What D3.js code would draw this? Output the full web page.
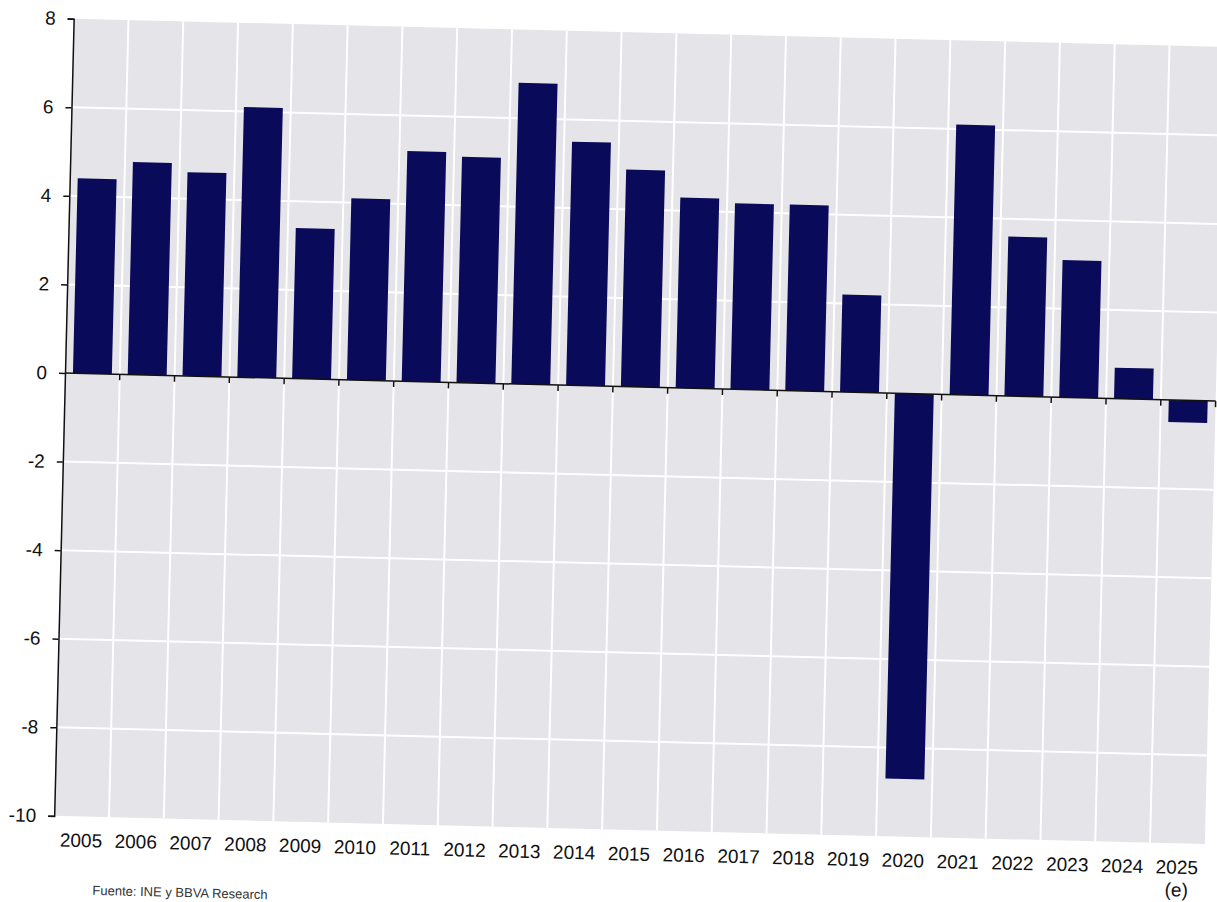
<!DOCTYPE html>
<html>
<head>
<meta charset="utf-8">
<script src="https://cdn.jsdelivr.net/npm/d3@7"></script>
<style>
  body { margin: 0; background: #fff; }
  svg { display: block; font-family: "Liberation Sans", Arial, sans-serif; }
</style>
</head>
<body>
<svg id="chart" width="1217" height="902"></svg>
<script>
  // --------------------------------------------------
  // 1. Data
  // --------------------------------------------------
  const years = ["2005", "2006", "2007", "2008", "2009", "2010", "2011", "2012", "2013", "2014",
                 "2015", "2016", "2017", "2018", "2019", "2020", "2021", "2022", "2023", "2024", "2025"];
  const growth = [4.4, 4.8, 4.6, 6.1, 3.4, 4.1, 5.2, 5.1, 6.8, 5.5,
                  4.9, 4.3, 4.2, 4.2, 2.2, -8.7, 6.1, 3.6, 3.1, 0.7, -0.5];
  const yTicks = [8, 6, 4, 2, 0, -2, -4, -6, -8, -10];
  const estimateNote = { year: "2025", text: "(e)" };
  const sourceText = "Fuente: INE y BBVA Research";

  // --------------------------------------------------
  // 2. Layout (the scan is tilted ~1.4deg, so the whole chart is rotated)
  // --------------------------------------------------
  const svg = d3.select("#chart");
  const originX = 65, originY = 373;   // left axis at value 0
  const plotW = 1151;
  const pxPerUnit = 44.3;
  const fontSize = "19px";

  const y = d3.scaleLinear()
    .domain([-10, 8])
    .range([originY + 10 * pxPerUnit, originY - 8 * pxPerUnit]);

  const x = d3.scaleBand()
    .domain(years)
    .range([originX, originX + plotW])
    .paddingInner(0.29)
    .paddingOuter(0.145);

  const gap = x.step() * x.paddingInner();
  const boundary = (d) => x(d) + x.bandwidth() + gap / 2;

  const g = svg.append("g")
    .attr("transform", `rotate(1.4, ${originX}, ${originY})`);

  // --------------------------------------------------
  // 3. Plot background + white grid
  // --------------------------------------------------
  g.append("rect")
    .attr("x", originX)
    .attr("y", y(8))
    .attr("width", plotW)
    .attr("height", y(-10) - y(8))
    .style("fill", "#e4e4e9");

  g.selectAll("line.hgrid")
    .data(yTicks.filter((d) => d !== 0 && d !== 8 && d !== -10))
    .enter()
    .append("line")
    .attr("class", "hgrid")
    .attr("x1", originX)
    .attr("x2", originX + plotW)
    .attr("y1", (d) => y(d))
    .attr("y2", (d) => y(d))
    .style("stroke", "#fff")
    .style("stroke-width", 2);

  g.selectAll("line.vgrid")
    .data(years.slice(0, -1))
    .enter()
    .append("line")
    .attr("class", "vgrid")
    .attr("x1", boundary)
    .attr("x2", boundary)
    .attr("y1", y(8))
    .attr("y2", y(-10))
    .style("stroke", "#fff")
    .style("stroke-width", 2);

  // --------------------------------------------------
  // 4. Bars
  // --------------------------------------------------
  g.selectAll("rect.bar")
    .data(years.map((d, i) => ({ year: d, value: growth[i] })))
    .enter()
    .append("rect")
    .attr("class", "bar")
    .attr("x", (d) => x(d.year))
    .attr("width", x.bandwidth())
    .attr("y", (d) => y(Math.max(0, d.value)))
    .attr("height", (d) => Math.abs(y(d.value) - y(0)))
    .style("fill", "#0a0a5a");

  // --------------------------------------------------
  // 5. Axes
  // --------------------------------------------------
  const yAxis = g.append("g")
    .attr("transform", `translate(${originX},0)`)
    .call(d3.axisLeft(y).tickValues(yTicks).tickSize(6).tickPadding(12).tickFormat((d) => String(d)));
  yAxis.select(".domain").style("stroke", "#111").style("stroke-width", 1.5);
  yAxis.selectAll(".tick line").style("stroke", "#111").style("stroke-width", 1.5);
  yAxis.selectAll("text")
    .style("font-size", fontSize)
    .style("fill", "#111")
    .style("font-family", "'Liberation Sans', Arial, sans-serif");

  // zero line with ticks between bars
  g.append("line")
    .attr("x1", originX)
    .attr("x2", originX + plotW)
    .attr("y1", y(0))
    .attr("y2", y(0))
    .style("stroke", "#111")
    .style("stroke-width", 1.5);

  g.selectAll("line.ztick")
    .data(years)
    .enter()
    .append("line")
    .attr("class", "ztick")
    .attr("x1", boundary)
    .attr("x2", boundary)
    .attr("y1", y(0))
    .attr("y2", y(0) + 6)
    .style("stroke", "#111")
    .style("stroke-width", 1.5);

  // category labels under the plot
  const xAxis = g.append("g")
    .attr("transform", `translate(0,${y(-10)})`)
    .call(d3.axisBottom(x).tickSize(0).tickPadding(17));
  xAxis.select(".domain").remove();
  xAxis.selectAll("text")
    .style("font-size", fontSize)
    .style("fill", "#111")
    .style("font-family", "'Liberation Sans', Arial, sans-serif");

  g.append("text")
    .attr("x", x(estimateNote.year) + x.bandwidth() / 2)
    .attr("y", y(-10) + 53)
    .attr("text-anchor", "middle")
    .style("font-size", fontSize)
    .style("fill", "#111")
    .text(estimateNote.text);

  // source line at the foot of the page
  g.append("text")
    .attr("x", 105)
    .attr("y", 894)
    .style("font-size", "13px")
    .style("fill", "#333")
    .text(sourceText);
</script>
</body>
</html>
